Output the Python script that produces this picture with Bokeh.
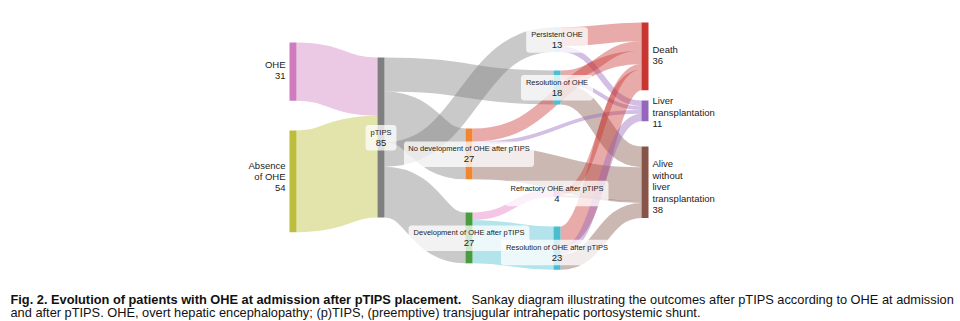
import numpy as np
from bokeh.plotting import figure
from bokeh.models import Range1d, ColumnDataSource
from bokeh.core.properties import value
from bokeh.embed import file_html
from bokeh.resources import INLINE

# ---------------- data ----------------
nodes = ["OHE", "Absence of OHE", "pTIPS",
         "No development of OHE after pTIPS", "Development of OHE after pTIPS",
         "Persistent OHE", "Resolution of OHE",
         "Refractory OHE after pTIPS", "Resolution of OHE after pTIPS",
         "Death", "Liver transplantation", "Alive without liver transplantation"]
node_column = [0, 0, 1, 2, 2, 3, 3, 3, 3, 4, 4, 4]

link_source = ["OHE", "Absence of OHE",
               "pTIPS", "pTIPS", "pTIPS", "pTIPS",
               "Persistent OHE", "Persistent OHE",
               "Resolution of OHE", "Resolution of OHE", "Resolution of OHE",
               "No development of OHE after pTIPS", "No development of OHE after pTIPS",
               "No development of OHE after pTIPS",
               "Development of OHE after pTIPS", "Development of OHE after pTIPS",
               "Refractory OHE after pTIPS", "Refractory OHE after pTIPS",
               "Resolution of OHE after pTIPS", "Resolution of OHE after pTIPS",
               "Resolution of OHE after pTIPS"]
link_target = ["pTIPS", "pTIPS",
               "Resolution of OHE", "No development of OHE after pTIPS",
               "Persistent OHE", "Development of OHE after pTIPS",
               "Death", "Liver transplantation",
               "Death", "Liver transplantation", "Alive without liver transplantation",
               "Death", "Liver transplantation", "Alive without liver transplantation",
               "Refractory OHE after pTIPS", "Resolution of OHE after pTIPS",
               "Death", "Alive without liver transplantation",
               "Death", "Liver transplantation", "Alive without liver transplantation"]
link_value = [31, 54, 18, 27, 13, 27, 10, 3, 5, 2, 11, 7, 2, 18, 4, 23, 3, 1, 11, 4, 8]

label_lines = {
    "Absence of OHE": ["Absence", "of OHE"],
    "Liver transplantation": ["Liver", "transplantation"],
    "Alive without liver transplantation": ["Alive", "without", "liver", "transplantation"],
}

caption_bold = "Fig. 2.  Evolution of patients with OHE at admission after pTIPS placement."
caption_line1 = "Sankay diagram illustrating the outcomes after pTIPS according to OHE at admission"
caption_line2 = ("and after pTIPS. OHE, overt hepatic encephalopathy; (p)TIPS, (preemptive) "
                 "transjugular intrahepatic portosystemic shunt.")

# ---------------- layout / style ----------------
W, H = 960, 321
NODE_W = 7
COL_X0, COL_STEP = 289, 88
K = 160 / 85.0  # px per patient
node_top = {
    "OHE": 42, "Absence of OHE": 130, "pTIPS": 57,
    "No development of OHE after pTIPS": 128, "Development of OHE after pTIPS": 212,
    "Persistent OHE": 27, "Resolution of OHE": 70,
    "Refractory OHE after pTIPS": 189, "Resolution of OHE after pTIPS": 226,
    "Death": 22, "Liver transplantation": 100, "Alive without liver transplantation": 146,
}
label_dy = {"OHE": -1, "Absence of OHE": -4.5, "Death": -1, "Liver transplantation": 1.5,
            "Alive without liver transplantation": 4.5, "Resolution of OHE after pTIPS": 4}
node_color = {
    "OHE": "#d07bbf", "Absence of OHE": "#bcbd3a", "pTIPS": "#7f7f7f",
    "No development of OHE after pTIPS": "#f08632", "Development of OHE after pTIPS": "#4a9d3e",
    "Persistent OHE": "#a9c6e6", "Resolution of OHE": "#4bbfd3",
    "Refractory OHE after pTIPS": "#e377c2", "Resolution of OHE after pTIPS": "#4bbdd0",
    "Death": "#c93631", "Liver transplantation": "#9467bd",
    "Alive without liver transplantation": "#865548",
}
LINK_ALPHA = 0.42
FONT = "Liberation Sans"
TXT = "#222222"
CAP_FS = "12.8px"

AW = {' ': 278, 'a': 556, 'b': 556, 'c': 500, 'd': 556, 'e': 556, 'f': 278, 'g': 556, 'h': 556,
      'i': 222, 'j': 222, 'k': 500, 'l': 222, 'm': 833, 'n': 556, 'o': 556, 'p': 556, 'q': 556,
      'r': 333, 's': 500, 't': 278, 'u': 556, 'v': 500, 'w': 722, 'x': 500, 'y': 500, 'z': 500,
      'A': 667, 'B': 667, 'C': 722, 'D': 722, 'E': 667, 'F': 611, 'G': 778, 'H': 722, 'I': 278,
      'O': 778, 'P': 667, 'R': 722, 'S': 667, 'T': 611}


def text_width(s, size):
    return sum(AW.get(c, 556) for c in s) * size / 1000.0


# ---------------- sankey geometry ----------------
col = dict(zip(nodes, node_column))
val_in = {n: 0 for n in nodes}
val_out = {n: 0 for n in nodes}
for s, t, v in zip(link_source, link_target, link_value):
    val_out[s] += v
    val_in[t] += v
node_val = {n: max(val_in[n], val_out[n]) for n in nodes}
node_x = {n: COL_X0 + COL_STEP * col[n] for n in nodes}
node_h = {n: node_val[n] * K for n in nodes}

off_out = {n: 0.0 for n in nodes}
off_in = {n: 0.0 for n in nodes}
lk = dict(x0=[], y0=[], x1=[], y1=[], cx0=[], cy0=[], cx1=[], cy1=[], w=[], color=[])
for s, t, v in zip(link_source, link_target, link_value):
    w = v * K
    sy = node_top[s] + off_out[s] + w / 2
    ty = node_top[t] + off_in[t] + w / 2
    off_out[s] += w
    off_in[t] += w
    x0 = node_x[s] + NODE_W
    x1 = node_x[t]
    xm = (x0 + x1) / 2
    lk["x0"].append(x0); lk["y0"].append(sy)
    lk["x1"].append(x1); lk["y1"].append(ty)
    lk["cx0"].append(xm); lk["cy0"].append(sy)
    lk["cx1"].append(xm); lk["cy1"].append(ty)
    lk["w"].append(w)
    lk["color"].append(node_color[s] if col[s] < 2 else node_color[t])

p = figure(width=W, height=H, x_range=Range1d(0, W), y_range=Range1d(H, 0),
           output_backend="svg", toolbar_location=None, min_border=0,
           x_axis_location=None, y_axis_location=None, outline_line_color=None,
           background_fill_color="white", border_fill_color="white")
p.xgrid.grid_line_color = None
p.ygrid.grid_line_color = None

p.bezier(x0="x0", y0="y0", x1="x1", y1="y1", cx0="cx0", cy0="cy0", cx1="cx1", cy1="cy1",
         line_width="w", line_color="color", line_alpha=LINK_ALPHA, line_cap="butt",
         source=ColumnDataSource(lk))

p.quad(left=[node_x[n] for n in nodes], right=[node_x[n] + NODE_W for n in nodes],
       top=[node_top[n] for n in nodes], bottom=[node_top[n] + node_h[n] for n in nodes],
       fill_color=[node_color[n] for n in nodes], line_color=None)


def rounded(l, r, t, b, rad=3, n=6):
    xs, ys = [], []
    for cx, cy, a0 in [(r - rad, t + rad, -90), (r - rad, b - rad, 0),
                       (l + rad, b - rad, 90), (l + rad, t + rad, 180)]:
        for a in np.linspace(np.radians(a0), np.radians(a0 + 90), n):
            xs.append(cx + rad * np.cos(a))
            ys.append(cy + rad * np.sin(a))
    return xs, ys


side = dict(x=[], y=[], text=[], align=[])
name_t = dict(x=[], y=[], text=[])
num_t = dict(x=[], y=[], text=[])
box_xs, box_ys = [], []
NAME_FS, NUM_FS, SIDE_FS = 7.5, 9.5, 9.5
for n in nodes:
    cy = node_top[n] + node_h[n] / 2 + label_dy.get(n, 0)
    c = col[n]
    if c in (0, 4):
        lines = label_lines.get(n, [n]) + [str(node_val[n])]
        m = len(lines)
        for i, ln in enumerate(lines):
            side["y"].append(cy + (i - (m - 1) / 2) * 11.5)
            side["text"].append(ln)
            if c == 0:
                side["x"].append(node_x[n] - 4); side["align"].append("right")
            else:
                side["x"].append(node_x[n] + NODE_W + 4); side["align"].append("left")
    else:
        cx = node_x[n] + NODE_W / 2
        name_t["x"].append(cx); name_t["y"].append(cy - 5); name_t["text"].append(n)
        num_t["x"].append(cx); num_t["y"].append(cy + 5.5); num_t["text"].append(str(node_val[n]))
        tw = max(text_width(n, NAME_FS), text_width(str(node_val[n]), NUM_FS))
        bx, by = rounded(cx - tw / 2 - 5, cx + tw / 2 + 5, cy - 12.5, cy + 13)
        box_xs.append(bx); box_ys.append(by)

p.patches(xs=box_xs, ys=box_ys, fill_color="white", fill_alpha=0.75, line_color=None)

p.text(x="x", y="y", text="text", text_align="align", text_baseline="middle",
       text_font=value(FONT), text_font_size="9.5px", text_color=TXT,
       source=ColumnDataSource(side))
p.text(x="x", y="y", text="text", text_align="center", text_baseline="middle",
       text_font=value(FONT), text_font_size="7.5px", text_color=TXT,
       source=ColumnDataSource(name_t))
p.text(x="x", y="y", text="text", text_align="center", text_baseline="middle",
       text_font=value(FONT), text_font_size="9.5px", text_color=TXT,
       source=ColumnDataSource(num_t))

# caption
p.text(x=[10], y=[299], text=[caption_bold], text_font=value(FONT), text_font_size=CAP_FS,
       text_font_style="bold", text_color="#111111", text_baseline="alphabetic")
p.text(x=[471], y=[299], text=[caption_line1], text_font=value(FONT), text_font_size=CAP_FS,
       text_color="#111111", text_baseline="alphabetic")
p.text(x=[10], y=[311.5], text=[caption_line2], text_font=value(FONT), text_font_size=CAP_FS,
       text_color="#111111", text_baseline="alphabetic")

open("out.html", "w").write(file_html(p, INLINE))
